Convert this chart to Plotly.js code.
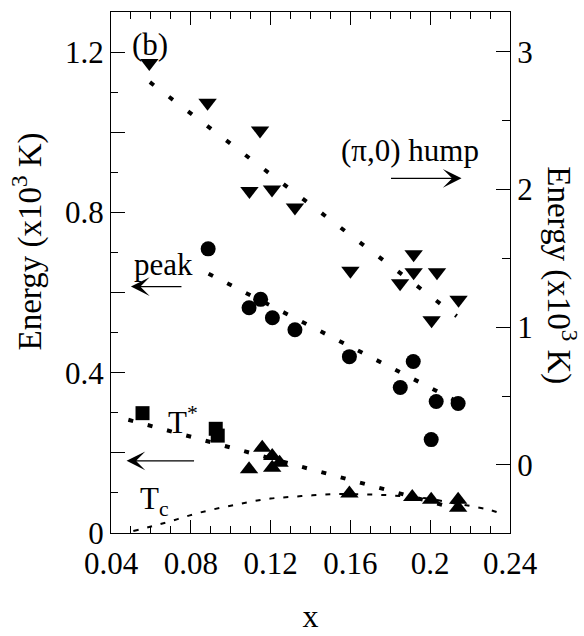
<!DOCTYPE html>
<html>
<head>
<meta charset="utf-8">
<script src="https://cdn.plot.ly/plotly-3.0.1.min.js"></script>
<style>html,body{margin:0;padding:0;background:#fff;}#chart{width:584px;height:636px;}</style>
</head>
<body>
<div id="chart"></div>
<script>
// (pi,0) hump energies (right axis, x10^3 K)
const humpX = [0.0592, 0.0884, 0.1147, 0.1094, 0.1207, 0.1322, 0.1917, 0.1600, 0.1917, 0.2034, 0.1849, 0.2142, 0.2007];
const humpE = [2.92, 2.63, 2.43, 1.99, 2.00, 1.87, 1.53, 1.41, 1.40, 1.40, 1.32, 1.20, 1.05];
const humpFitX = [0.0595, 0.2133];
const humpFitE = [2.78, 1.08];

// peak energies (left axis, x10^3 K)
const peakX = [0.0887, 0.1150, 0.1092, 0.1209, 0.1322, 0.1595, 0.1850, 0.1915, 0.2030, 0.2005, 0.2140];
const peakE = [0.709, 0.583, 0.562, 0.537, 0.507, 0.440, 0.363, 0.428, 0.328, 0.233, 0.323];
const peakFitX = [0.0889, 0.2135];
const peakFitE = [0.647, 0.328];

// T* (left axis)
const tSqX = [0.0558, 0.0925, 0.0935];
const tSqE = [0.299, 0.260, 0.243];
const tTriX = [0.1158, 0.1092, 0.1208, 0.1208, 0.1245, 0.1595, 0.1910, 0.2005, 0.2140, 0.2140];
const tTriE = [0.213, 0.159, 0.192, 0.163, 0.175, 0.0985, 0.090, 0.083, 0.083, 0.063];
const tFitX = [0.0487, 0.2135];
const tFitE = [0.2825, 0.060];

// Tc dome (left axis)
const tcX = [0.0512, 0.0612, 0.0704, 0.0795, 0.0895, 0.100, 0.110, 0.120, 0.130, 0.141, 0.151, 0.160, 0.170, 0.180, 0.190, 0.200, 0.210, 0.220, 0.230, 0.236];
const tcE = [0.005, 0.0175, 0.030, 0.044, 0.057, 0.068, 0.078, 0.086, 0.090, 0.094, 0.097, 0.097, 0.096, 0.094, 0.090, 0.085, 0.076, 0.0675, 0.0575, 0.0475];

const leftTickVals = [0, 0.2, 0.4, 0.6, 0.8, 1.0, 1.2];
const leftTickText = ['0', '', '0.4', '', '0.8', '', '1.2'];
const rightTickVals = [0, 1, 2, 3];
const xTickVals = [0.04, 0.08, 0.12, 0.16, 0.2, 0.24];
const xTickText = ['0.04', '0.08', '0.12', '0.16', '0.2', '0.24'];

const FONT = 'Liberation Serif, Times New Roman, serif';
const FS = 31;

const traces = [
  {x: humpFitX, y: humpFitE, yaxis: 'y2', mode: 'lines', line: {color: '#000', width: 4, dash: '5px,19px'}, hoverinfo: 'skip'},
  {x: peakFitX, y: peakFitE, mode: 'lines', line: {color: '#000', width: 4, dash: '5px,16px'}, hoverinfo: 'skip'},
  {x: tFitX, y: tFitE, mode: 'lines', line: {color: '#000', width: 4, dash: '5px,15px'}, hoverinfo: 'skip'},
  {x: tcX, y: tcE, mode: 'lines', line: {color: '#000', width: 2, dash: '5px,9px', shape: 'spline'}, hoverinfo: 'skip'},
  {x: humpX, y: humpE, yaxis: 'y2', mode: 'markers', marker: {symbol: 'triangle-down', size: 16, color: '#000'}},
  {x: peakX, y: peakE, mode: 'markers', marker: {symbol: 'circle', size: 15, color: '#000'}},
  {x: tSqX, y: tSqE, mode: 'markers', marker: {symbol: 'square', size: 14, color: '#000'}},
  {x: tTriX, y: tTriE, mode: 'markers', marker: {symbol: 'triangle-up', size: 16, color: '#000'}}
];

function arrow(x, y, ax) {
  return {x: x, y: y, xref: 'x', yref: 'y', text: '', showarrow: true,
    ax: ax, ay: 0, arrowhead: 3, arrowsize: 2.6, arrowwidth: 1.2, arrowcolor: '#000', standoff: 0};
}
function label(x, y, text) {
  return {x: x, y: y, xref: 'x', yref: 'y', text: text, showarrow: false,
    xanchor: 'center', yanchor: 'middle', font: {family: FONT, size: FS, color: '#000'}};
}
function axisTitle(x, y, angle) {
  return {x: x, y: y, xref: 'paper', yref: 'paper', text: 'Energy (x10<sup>3</sup> K)', showarrow: false,
    textangle: angle, xanchor: 'center', yanchor: 'middle', font: {family: FONT, size: 33, color: '#000'}};
}

const layout = {
  width: 584, height: 636,
  margin: {l: 111, r: 74, t: 12, b: 103},
  paper_bgcolor: '#fff', plot_bgcolor: '#fff',
  showlegend: false,
  font: {family: FONT, size: FS, color: '#000'},
  xaxis: {
    range: [0.04, 0.24], tickmode: 'array', tickvals: xTickVals, ticktext: xTickText,
    ticks: 'inside', ticklen: 13, tickwidth: 1, tickcolor: '#000',
    minor: {dtick: 0.01, tick0: 0, ticks: 'inside', ticklen: 7, tickcolor: '#000', tickwidth: 1},
    showline: true, linecolor: '#000', linewidth: 1, mirror: 'ticks',
    showgrid: false, zeroline: false, ticklabelstandoff: 3,
    tickfont: {family: FONT, size: FS, color: '#000'},
    title: {text: 'x', font: {family: FONT, size: 32, color: '#000'}, standoff: 24}
  },
  yaxis: {
    range: [0, 1.3], tickmode: 'array', tickvals: leftTickVals, ticktext: leftTickText,
    ticks: 'inside', ticklen: 14, tickwidth: 1, tickcolor: '#000',
    minor: {dtick: 0.1, tick0: 0, ticks: 'inside', ticklen: 7, tickcolor: '#000', tickwidth: 1},
    showline: true, linecolor: '#000', linewidth: 1,
    showgrid: false, zeroline: false,
    tickfont: {family: FONT, size: FS, color: '#000'}
  },
  yaxis2: {
    overlaying: 'y', side: 'right',
    range: [-0.495, 3.29], tickmode: 'array', tickvals: rightTickVals,
    ticks: 'inside', ticklen: 14, tickwidth: 1, tickcolor: '#000',
    minor: {dtick: 0.5, tick0: 0, ticks: 'inside', ticklen: 8, tickcolor: '#000', tickwidth: 1},
    showline: true, linecolor: '#000', linewidth: 1,
    showgrid: false, zeroline: false,
    tickfont: {family: FONT, size: FS, color: '#000'}
  },
  annotations: [
    axisTitle(-0.21, 0.56, -90),
    axisTitle(1.13, 0.495, 90),
    label(0.0595, 1.22, '(b)'),
    label(0.190, 0.955, '(π,0) hump'),
    arrow(0.2157, 0.885, -72),
    label(0.0663, 0.67, 'peak'),
    arrow(0.050, 0.615, 52),
    label(0.076, 0.28, 'T<sup>*</sup>'),
    arrow(0.0478, 0.18, 69),
    label(0.062, 0.08, 'T<sub>c</sub>')
  ]
};

Plotly.newPlot('chart', traces, layout, {displayModeBar: false, staticPlot: true});
</script>
</body>
</html>
